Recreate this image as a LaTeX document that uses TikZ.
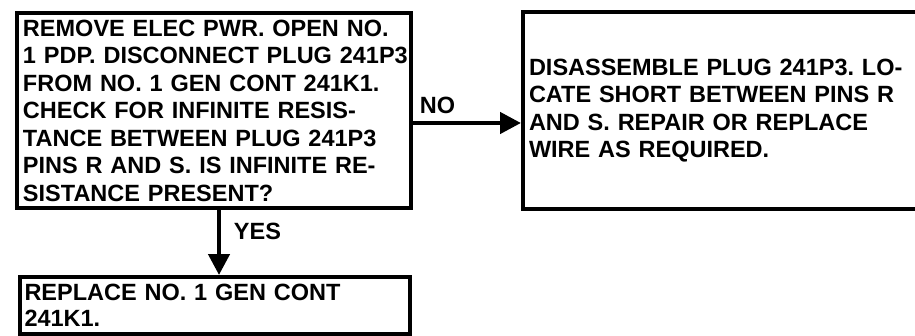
\documentclass[tikz,border=0pt]{standalone}
\usepackage{fontspec}
\setmainfont{Liberation Sans}
\usetikzlibrary{arrows.meta}
\frenchspacing
\begin{document}
\begin{tikzpicture}[x=1pt,y=1pt,
  box/.style={draw, line width=4pt, rectangle, align=left, inner ysep=0pt,
    font=\fontsize{23.5}{27.5}\selectfont\bfseries\frenchspacing},
  flow/.style={line width=4.5pt, -{Triangle[length=21pt,width=21pt]}},
  lbl/.style={font=\fontsize{23.5}{27.5}\selectfont\bfseries, inner sep=0pt}]
\useasboundingbox (0,0) rectangle (915,335);
\clip (0,0) rectangle (915,335);
\fill[white] (0,0) rectangle (915,335);
\node[box, minimum width=394, minimum height=195, text width=382, inner xsep=6] (q) at (214,224.5)
  {\mbox{REMOVE ELEC PWR. OPEN NO.}\\
   \mbox{1 PDP. DISCONNECT PLUG 241P3}\\
   \mbox{FROM NO. 1 GEN CONT 241K1.}\\
   \mbox{CHECK FOR INFINITE RESIS-}\\
   \mbox{TANCE BETWEEN PLUG 241P3}\\
   \mbox{PINS R AND S. IS INFINITE RE-}\\
   \mbox{SISTANCE PRESENT?}};
\node[box, minimum width=399, minimum height=196, text width=387, inner xsep=6] (a) at (722.5,224.5)
  {\mbox{DISASSEMBLE PLUG 241P3. LO-}\\
   \mbox{CATE SHORT BETWEEN PINS R}\\
   \mbox{AND S. REPAIR OR REPLACE}\\
   \mbox{WIRE AS REQUIRED.}};
\node[box, minimum width=390.5, minimum height=57, text width=380.5, inner xsep=5,
  font=\fontsize{23.5}{26}\selectfont\bfseries\frenchspacing] (r) at (214.75,29.5)
  {\mbox{REPLACE NO. 1 GEN CONT}\\
   \mbox{241K1.}};
\draw[flow] ([yshift=-12.5]q.east) -- ([yshift=-12.5]a.west);
\draw[flow] ([xshift=5]q.south) -- ([xshift=5]q.south |- r.north);
\node[lbl] (no) at (437.5,230) {NO};
\node[lbl] (yes) at (257.5,104) {YES};
\end{tikzpicture}
\end{document}
